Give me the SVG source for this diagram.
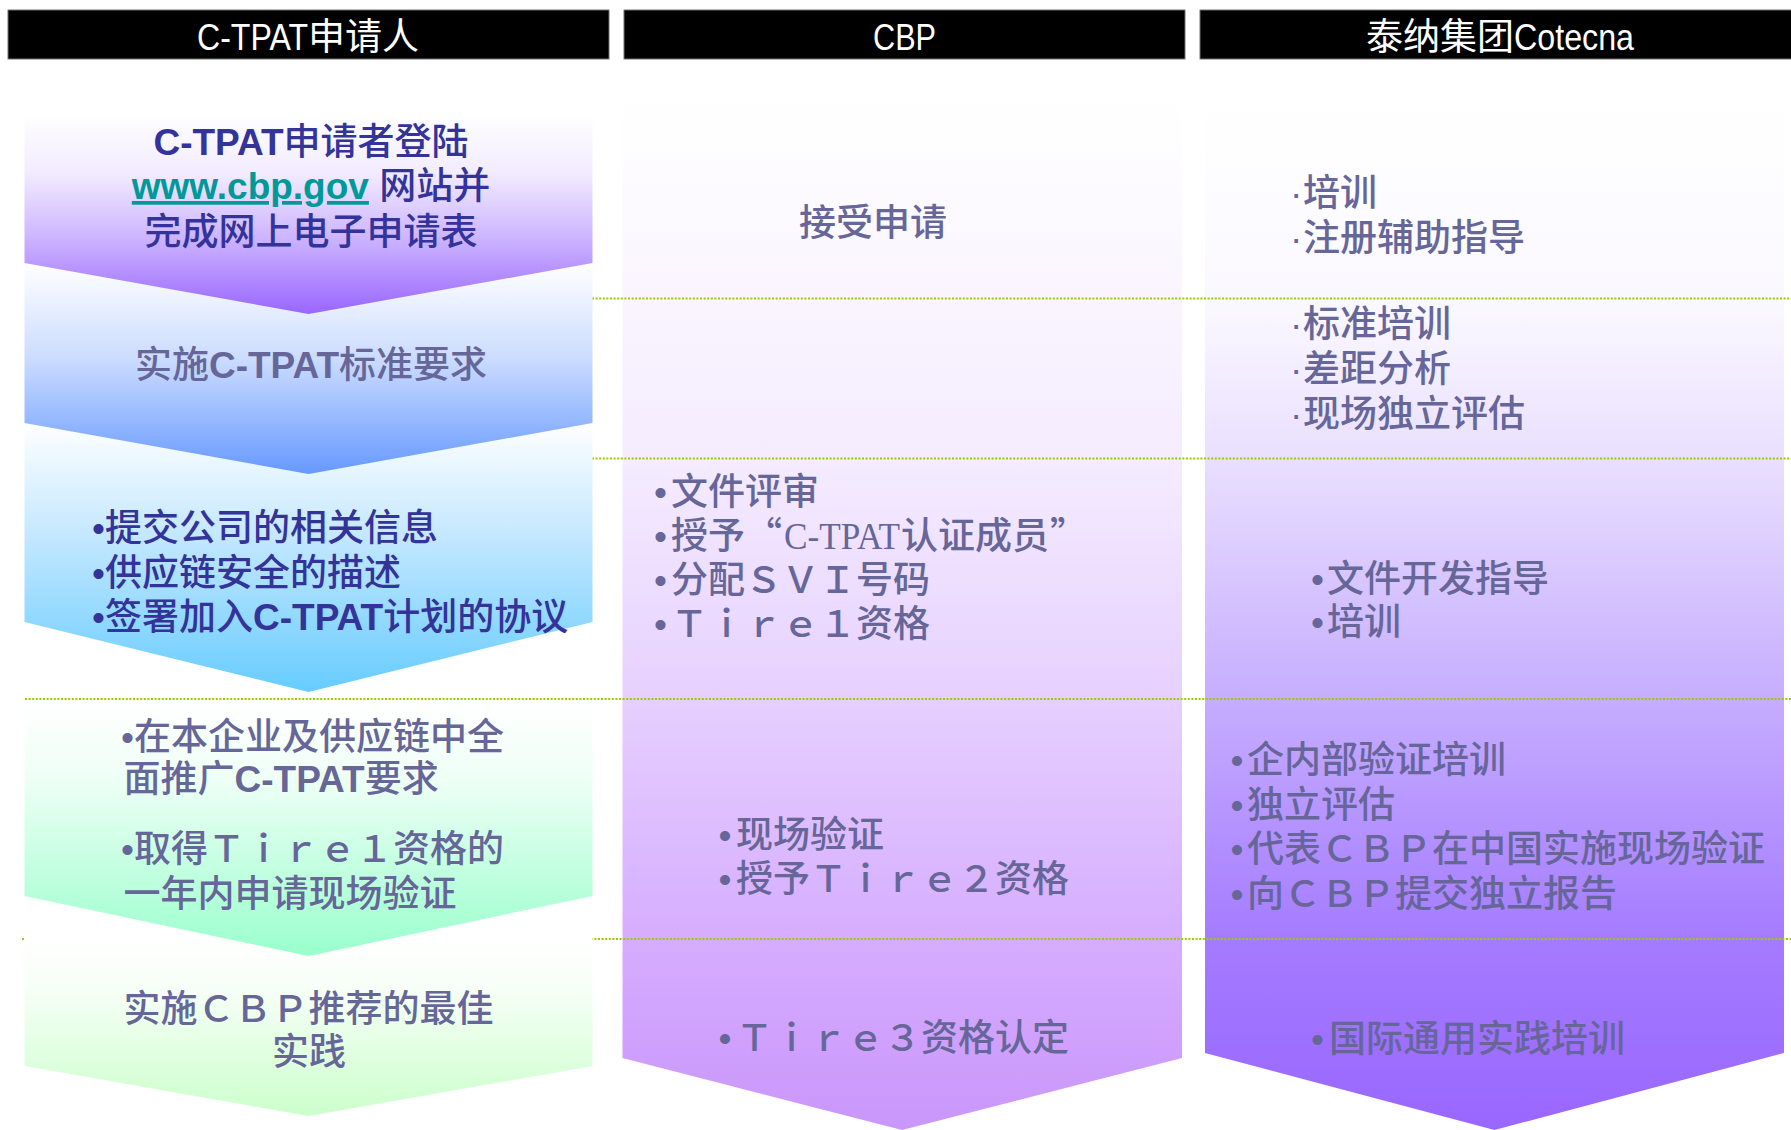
<svg xmlns="http://www.w3.org/2000/svg" width="1791" height="1130" viewBox="0 0 1791 1130">
<defs>
<style>
.hdr{fill:#000;stroke:#707070;stroke-width:1}
.ht{fill:#fff;font-family:"Noto Sans CJK SC",sans-serif;font-size:37px}
.hl{fill:#fff;font-family:"Liberation Sans",Arial,sans-serif;font-size:37px}
.t{font-family:"Noto Sans CJK SC","Noto Sans",sans-serif;font-size:37px;font-weight:500}
.navy{fill:#333399}
.gray{fill:#666699}
.b{font-family:"Liberation Sans",Arial,sans-serif;font-weight:bold}
.bul{font-family:"Liberation Sans",Arial,sans-serif;font-weight:normal}
.sep{stroke:#99CC00;stroke-width:2.2;stroke-dasharray:2 1.6;fill:none}
</style>
<linearGradient id="g1" x1="0" y1="0" x2="0" y2="1">
<stop offset="0" stop-color="#FFFFFF"/><stop offset="0.3" stop-color="#F2ECFF"/><stop offset="0.62" stop-color="#CDB5FF"/><stop offset="1" stop-color="#9966FF"/>
</linearGradient>
<linearGradient id="g2" x1="0" y1="0" x2="0" y2="1">
<stop offset="0" stop-color="#FFFFFF"/><stop offset="0.45" stop-color="#CCDCFF"/><stop offset="1" stop-color="#6699FF"/>
</linearGradient>
<linearGradient id="g3" x1="0" y1="0" x2="0" y2="1">
<stop offset="0" stop-color="#FFFFFF"/><stop offset="0.45" stop-color="#BFE6FF"/><stop offset="1" stop-color="#66CCFF"/>
</linearGradient>
<linearGradient id="g4" x1="0" y1="0" x2="0" y2="1">
<stop offset="0" stop-color="#FFFFFF"/><stop offset="0.3" stop-color="#EEFFF6"/><stop offset="1" stop-color="#99FFCC"/>
</linearGradient>
<linearGradient id="g5" x1="0" y1="0" x2="0" y2="1">
<stop offset="0" stop-color="#FFFFFF"/><stop offset="0.3" stop-color="#F6FFF6"/><stop offset="1" stop-color="#CCFFCC"/>
</linearGradient>
<linearGradient id="gc2" x1="0" y1="0" x2="0" y2="1">
<stop offset="0" stop-color="#FFFFFF"/><stop offset="0.35" stop-color="#F5ECFF"/><stop offset="0.58" stop-color="#E6D0FF"/><stop offset="0.81" stop-color="#D6ADFF"/><stop offset="1" stop-color="#C996FA"/>
</linearGradient>
<linearGradient id="gc3" x1="0" y1="0" x2="0" y2="1">
<stop offset="0" stop-color="#FFFFFF"/><stop offset="0.2" stop-color="#FAF8FF"/><stop offset="0.35" stop-color="#E9DFFF"/><stop offset="0.54" stop-color="#CCB6FF"/><stop offset="0.81" stop-color="#A57CFF"/><stop offset="1" stop-color="#9966FF"/>
</linearGradient>
</defs>
<rect width="1791" height="1130" fill="#FFFFFF"/>

<g id="header-applicant">
<rect class="hdr" x="8" y="10" width="601" height="49"/>
<text class="hl" x="197" y="50" textLength="111" lengthAdjust="spacingAndGlyphs">C-TPAT</text>
<text class="ht" x="308" y="50">申请人</text>
</g>
<g id="header-cbp">
<rect class="hdr" x="624" y="10" width="561" height="49"/>
<text class="hl" x="873" y="50" textLength="63" lengthAdjust="spacingAndGlyphs">CBP</text>
</g>
<g id="header-cotecna">
<rect class="hdr" x="1200" y="10" width="592" height="49"/>
<text class="ht" x="1366" y="50">泰纳集团</text>
<text class="hl" x="1514" y="50" textLength="120" lengthAdjust="spacingAndGlyphs">Cotecna</text>
</g>

<g id="cbp-column">
<polygon points="622.5,100 1182,100 1182,1058 902,1130 622.5,1058" fill="url(#gc2)"/>
<text class="t gray" x="799" y="236">接受申请</text>
<text class="t gray" y="505"><tspan class="bul" x="654">•</tspan><tspan x="671">文件评审</tspan></text>
<text class="t gray" y="549"><tspan class="bul" x="654">•</tspan><tspan x="671">授予“</tspan><tspan x="784" font-family="Liberation Serif,serif" font-weight="normal" textLength="116" lengthAdjust="spacingAndGlyphs">C-TPAT</tspan><tspan x="901">认证成员</tspan><tspan x="1050">”</tspan></text>
<text class="t gray" y="593"><tspan class="bul" x="654">•</tspan><tspan x="671">分配ＳＶＩ号码</tspan></text>
<text class="t gray" y="637"><tspan class="bul" x="654">•</tspan><tspan x="671">Ｔｉｒｅ１资格</tspan></text>
<text class="t gray" y="848"><tspan class="bul" x="718.5">•</tspan><tspan x="736">现场验证</tspan></text>
<text class="t gray" y="892"><tspan class="bul" x="718.5">•</tspan><tspan x="736">授予Ｔｉｒｅ２资格</tspan></text>
<text class="t gray" y="1051"><tspan class="bul" x="718.5">•</tspan><tspan x="736">Ｔｉｒｅ３资格认定</tspan></text>
</g>

<g id="cotecna-column">
<polygon points="1205,100 1784,100 1784,1053 1494.5,1130 1205,1053" fill="url(#gc3)"/>
<text class="t gray" y="206"><tspan class="bul" x="1290">·</tspan><tspan x="1303">培训</tspan></text>
<text class="t gray" y="251"><tspan class="bul" x="1290">·</tspan><tspan x="1303">注册辅助指导</tspan></text>
<text class="t gray" y="337"><tspan class="bul" x="1290">·</tspan><tspan x="1303">标准培训</tspan></text>
<text class="t gray" y="382"><tspan class="bul" x="1290">·</tspan><tspan x="1303">差距分析</tspan></text>
<text class="t gray" y="427"><tspan class="bul" x="1290">·</tspan><tspan x="1303">现场独立评估</tspan></text>
<text class="t gray" y="592"><tspan class="bul" x="1311">•</tspan><tspan x="1327">文件开发指导</tspan></text>
<text class="t gray" y="635"><tspan class="bul" x="1311">•</tspan><tspan x="1327">培训</tspan></text>
<text class="t gray" y="773"><tspan class="bul" x="1230.5">•</tspan><tspan x="1247">企内部验证培训</tspan></text>
<text class="t gray" y="818"><tspan class="bul" x="1230.5">•</tspan><tspan x="1247">独立评估</tspan></text>
<text class="t gray" y="862"><tspan class="bul" x="1230.5">•</tspan><tspan x="1247">代表ＣＢＰ在中国实施现场验证</tspan></text>
<text class="t gray" y="907"><tspan class="bul" x="1230.5">•</tspan><tspan x="1247">向ＣＢＰ提交独立报告</tspan></text>
<text class="t gray" y="1052"><tspan class="bul" x="1311">•</tspan><tspan x="1329">国际通用实践培训</tspan></text>
</g>

<g id="connectors">
<line class="sep" x1="592" y1="298.5" x2="1791" y2="298.5"/>
<line class="sep" x1="592" y1="458.5" x2="1791" y2="458.5"/>
<line class="sep" x1="25" y1="699" x2="1791" y2="699"/>
<line class="sep" x1="22" y1="939" x2="1791" y2="939"/>
</g>

<g id="step5">
<polygon points="24.5,937 592.5,937 592.5,1066 308.5,1116 24.5,1066" fill="url(#g5)"/>
<text class="t gray" x="123.5" y="1022">实施ＣＢＰ推荐的最佳</text>
<text class="t gray" x="309" y="1065" text-anchor="middle">实践</text>
</g>
<g id="step4">
<polygon points="24.5,703 592.5,703 592.5,896 308.5,956 24.5,896" fill="url(#g4)"/>
<text class="t gray" y="750"><tspan class="bul" x="121">•</tspan><tspan x="134">在本企业及供应链中全</tspan></text>
<text class="t gray" x="123.5" y="792">面推广<tspan class="b">C-TPAT</tspan>要求</text>
<text class="t gray" y="862"><tspan class="bul" x="121">•</tspan><tspan x="134">取得Ｔｉｒｅ１资格的</tspan></text>
<text class="t gray" x="123.5" y="907">一年内申请现场验证</text>
</g>
<g id="step3">
<polygon points="24.5,423 592.5,423 592.5,622 308.5,692 24.5,622" fill="url(#g3)"/>
<text class="t navy" y="541"><tspan class="bul" x="92">•</tspan><tspan x="105">提交公司的相关信息</tspan></text>
<text class="t navy" y="586"><tspan class="bul" x="92">•</tspan><tspan x="105">供应链安全的描述</tspan></text>
<text class="t navy" y="630"><tspan class="bul" x="92">•</tspan><tspan x="105">签署加入</tspan><tspan class="b">C-TPAT</tspan><tspan>计划的协议</tspan></text>
</g>
<g id="step2">
<polygon points="24.5,263 592.5,263 592.5,423 308.5,474 24.5,423" fill="url(#g2)"/>
<text class="t gray" x="311" y="378" text-anchor="middle">实施<tspan class="b">C-TPAT</tspan>标准要求</text>
</g>
<g id="step1">
<polygon points="24.5,112 592.5,112 592.5,263 308.5,314 24.5,263" fill="url(#g1)"/>
<text class="t navy" x="311" y="155" text-anchor="middle"><tspan class="b">C-TPAT</tspan>申请者登陆</text>
<text class="t navy" x="311" y="199" text-anchor="middle"><tspan class="b" fill="#009999" text-decoration="underline">www.cbp.gov</tspan><tspan class="bul"> </tspan>网站并</text>
<text class="t navy" x="311" y="245" text-anchor="middle">完成网上电子申请表</text>
</g>
</svg>
